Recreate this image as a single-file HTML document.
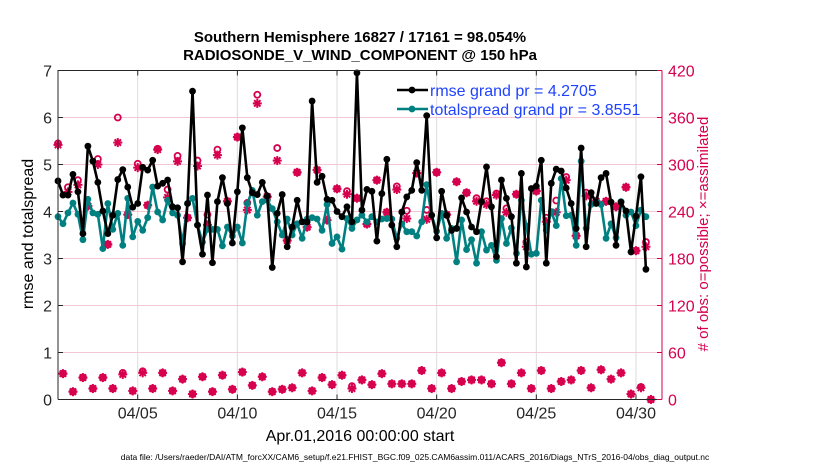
<!DOCTYPE html>
<html><head><meta charset="utf-8">
<style>
html,body{margin:0;padding:0;background:#fff;}
svg{display:block;font-family:"Liberation Sans",Arial,sans-serif;}
</style></head>
<body>
<svg id="chart" width="830" height="470" viewBox="0 0 830 470">
  <rect x="0" y="0" width="830" height="470" fill="#fff"/>
  <text x="360" y="42" text-anchor="middle" font-size="15" font-weight="bold">Southern Hemisphere 16827 / 17161 = 98.054%</text>
  <text x="360" y="60" text-anchor="middle" font-size="15" font-weight="bold">RADIOSONDE_V_WIND_COMPONENT @ 150 hPa</text>
  <g id="grid"></g>
  <g id="marks"></g>
  <g id="axes"></g>
  <text x="0" y="0" transform="translate(33,234) rotate(-90)" text-anchor="middle" font-size="16">rmse and totalspread</text>
  <text x="0" y="0" transform="translate(708,234) rotate(-90)" text-anchor="middle" font-size="15" fill="#d6004e"># of obs: o=possible; ×=assimilated</text>
  <text x="360" y="441" text-anchor="middle" font-size="16">Apr.01,2016 00:00:00 start</text>
  <text x="415" y="460" text-anchor="middle" font-size="8.5">data file: /Users/raeder/DAI/ATM_forcXX/CAM6_setup/f.e21.FHIST_BGC.f09_025.CAM6assim.011/ACARS_2016/Diags_NTrS_2016-04/obs_diag_output.nc</text>
  <g id="legend"></g>
</svg>
<script>
// ---- data ----
const xTickDays = [4, 9, 14, 19, 24, 29];
const xTickLabels = ["04/05", "04/10", "04/15", "04/20", "04/25", "04/30"];
const yTicksLeft = [0, 1, 2, 3, 4, 5, 6, 7];
const yTicksRight = [0, 60, 120, 180, 240, 300, 360, 420];
const rmse = [4.65,4.35,4.35,4.79,4.42,3.53,5.39,5.07,4.62,4.01,3.53,3.92,4.68,4.89,4.52,4.09,4.17,4.94,4.88,5.09,4.54,
 4.6,4.67,4.1,4.08,2.93,4.17,6.56,3.71,3.09,4.35,2.91,4.21,4.72,4.17,3.33,4.42,5.78,4.72,4.40,4.36,
 4.62,4.33,2.81,3.96,4.36,3.25,3.67,4.24,3.78,3.78,6.35,4.62,4.75,4.26,4.24,4.0,3.89,4.1,3.78,6.95,
 4.03,4.47,4.43,3.37,4.38,5.11,3.71,3.25,3.99,4.31,4.45,5.04,4.45,6.04,3.92,3.44,4.43,3.92,3.6,
 3.64,4.29,3.99,3.67,3.57,4.21,4.95,4.1,3.04,4.67,4.28,3.89,2.9,4.81,2.82,4.49,4.54,5.09,2.9,4.6,
 4.9,4.86,4.5,4.17,3.64,5.35,3.25,4.4,4.17,4.72,4.81,4.2,3.28,4.2,4.01,3.14,3.9,4.74,2.77];
const spread = [3.89,3.74,3.97,4.18,3.94,3.40,4.26,3.97,3.94,3.21,4.17,3.62,3.96,3.28,4.28,3.46,3.79,3.60,3.87,4.52,3.99,
 3.82,4.24,3.97,3.92,3.32,4.17,4.28,3.71,3.35,3.62,3.62,3.62,3.27,3.67,3.48,3.67,3.33,4.17,4.45,3.92,
 4.21,4.24,4.06,3.78,3.5,3.84,3.5,3.74,3.43,3.84,3.87,3.84,3.6,4.15,3.32,3.46,3.2,3.85,3.64,3.82,
 3.92,3.78,3.89,3.78,3.84,3.85,3.84,3.43,3.74,3.57,3.57,3.48,3.78,4.57,3.92,3.58,3.96,3.43,3.64,
 2.93,3.82,3.19,3.4,2.9,3.57,3.18,3.28,2.96,3.85,3.32,3.65,3.11,4.24,3.69,3.09,3.11,4.24,3.6,4.0,
 3.7,4.7,3.91,3.92,3.28,5.07,3.64,4.15,4.21,4.15,3.43,3.74,3.44,4.21,3.92,3.99,3.7,4.03,3.89];
const obsAssimMain = [325,265,274,247,300,198,328,236,296,248,319,258,304,232,298,223,312,253,335,242,378,259,305,203,290,220,293,229,269,262,257,224,280,239,268,231,289,230,290,236,278,264,253,249,261,239,262,195,266,227,239,280,209,260,253,253,246,271,190,195];
const obsPossMain = [327,271,280,247,307,198,360,236,301,248,320,268,311,232,305,236,319,253,335,251,389,259,321,203,290,220,293,229,269,266,257,224,280,239,272,241,289,242,290,236,278,264,257,253,263,244,262,201,266,232,254,284,209,264,253,253,246,271,190,201];
const obsAssimOff = [33,10,28,14,28,14,32,11,34,14,34,11,26,7,29,10,31,13,35,18,29,10,13,15,34,11,28,19,31,14,25,19,33,20,20,20,37,14,34,14,23,25,25,20,47,20,34,14,37,14,23,25,37,15,38,26,34,7,15,0];
const obsPossOff = [33,10,28,14,28,14,34,11,36,14,34,11,26,7,29,10,31,13,35,18,29,10,13,15,34,11,28,19,31,17,25,19,33,20,20,20,37,14,34,14,23,25,25,20,47,20,34,14,37,14,23,25,37,15,38,26,34,7,16,0];
const stepDays = 0.25;

// ---- scales ----
const PL = 58, PR = 662, PT = 70.5, PB = 399.5;
const pxPerDay = 19.93;
function xs(d){ return PL + d * pxPerDay; }
function yL(v){ return PB - (v / 7) * (PB - PT); }
function yR(c){ return PB - (c / 420) * (PB - PT); }
const NS = "http://www.w3.org/2000/svg";
function mk(tag, attrs, parent){
  const e = document.createElementNS(NS, tag);
  for (const k in attrs) e.setAttribute(k, attrs[k]);
  parent.appendChild(e); return e;
}
const grid = document.getElementById('grid');
const marks = document.getElementById('marks');
const axes = document.getElementById('axes');
const legend = document.getElementById('legend');
const RED = "#d6004e";

// grid
xTickDays.forEach(function(d){
  const l = mk('line', {x1:xs(d), x2:xs(d), y1:PT, y2:PB, stroke:"#dcdcdc", "stroke-width":1}, grid);
  
  
});
yTicksRight.forEach(function(c){
  if (c === 0 || c === 420) return;
  const l = mk('line', {x1:PL, x2:PR, y1:yR(c), y2:yR(c), stroke:"#f3c6d6", "stroke-width":1}, grid);
  
  
});

// obs markers
function star(x, y, name){
  const g = mk('g', {stroke:RED, "stroke-width":2, fill:"none"}, marks);
  
  
  mk('line', {x1:x-4.5, x2:x+4.5, y1:y, y2:y}, g);
  mk('line', {x1:x, x2:x, y1:y-4.5, y2:y+4.5}, g);
  mk('line', {x1:x-3.2, x2:x+3.2, y1:y-3.2, y2:y+3.2}, g);
  mk('line', {x1:x-3.2, x2:x+3.2, y1:y+3.2, y2:y-3.2}, g);
}
function ring(x, y, name){
  const c = mk('circle', {cx:x, cy:y, r:3, fill:"none", stroke:RED, "stroke-width":1.8}, marks);
  
  
}
obsPossMain.forEach(function(c, k){ ring(xs(k*2*stepDays), yR(c), 'obs-possible'); });
obsAssimMain.forEach(function(c, k){ star(xs(k*2*stepDays), yR(c), 'obs-assimilated'); });
obsPossOff.forEach(function(c, k){ ring(xs((k*2+1)*stepDays), yR(c), 'obs-possible'); });
obsAssimOff.forEach(function(c, k){ star(xs((k*2+1)*stepDays), yR(c), 'obs-assimilated'); });

// series
function series(vals, color, name){
  const pts = vals.map(function(v, i){ return xs(i*stepDays).toFixed(2) + "," + yL(v).toFixed(2); }).join(" ");
  const pl = mk('polyline', {points:pts, fill:"none", stroke:color, "stroke-width":2.6, "stroke-linejoin":"round"}, marks);
  
  
  vals.forEach(function(v, i){
    const c = mk('circle', {cx:xs(i*stepDays), cy:yL(v), r:3.4, fill:color}, marks);
    
    
  });
}
series(spread, "#008080", "totalspread");
series(rmse, "#000000", "rmse");

// axes
const box = mk('path', {d:"M"+PL+" "+PB+" V"+PT+" H"+PR, fill:"none", stroke:"#262626", "stroke-width":1}, axes);


const xb = mk('line', {x1:PL, x2:PR, y1:PB, y2:PB, stroke:"#262626", "stroke-width":1}, axes);


const rb = mk('line', {x1:PR, x2:PR, y1:PT, y2:PB, stroke:RED, "stroke-width":1}, axes);


xTickDays.forEach(function(d, i){
  mk('line', {x1:xs(d), x2:xs(d), y1:PB, y2:PB-5, stroke:"#262626"}, axes);
  mk('line', {x1:xs(d), x2:xs(d), y1:PT, y2:PT+5, stroke:"#262626"}, axes);
  const t = mk('text', {x:xs(d), y:PB+19, "text-anchor":"middle", "font-size":16, fill:"#262626"}, axes);
  t.textContent = xTickLabels[i];
  
  
});
yTicksLeft.forEach(function(v){
  mk('line', {x1:PL, x2:PL+5, y1:yL(v), y2:yL(v), stroke:"#262626"}, axes);
  const t = mk('text', {x:PL-6, y:yL(v)+6, "text-anchor":"end", "font-size":16, fill:"#262626"}, axes);
  t.textContent = v;
  
  
});
yTicksRight.forEach(function(c){
  mk('line', {x1:PR-5, x2:PR, y1:yR(c), y2:yR(c), stroke:RED}, axes);
  const t = mk('text', {x:PR+6, y:yR(c)+6, "text-anchor":"start", "font-size":16, fill:RED}, axes);
  t.textContent = c;
  
  
});

// legend
const legItems = [["rmse grand pr = 4.2705", "#000000", 90], ["totalspread grand pr = 3.8551", "#008080", 109]];
legItems.forEach(function(it){
  const g = mk('g', {}, legend);
  
  
  mk('line', {x1:397, x2:428, y1:it[2], y2:it[2], stroke:it[1], "stroke-width":2.6}, g);
  mk('circle', {cx:412, cy:it[2], r:3.4, fill:it[1]}, g);
  const t = mk('text', {x:430, y:it[2]+6, "font-size":16, fill:"#1f43ff"}, g);
  t.textContent = it[0];
});
</script>
</body></html>
